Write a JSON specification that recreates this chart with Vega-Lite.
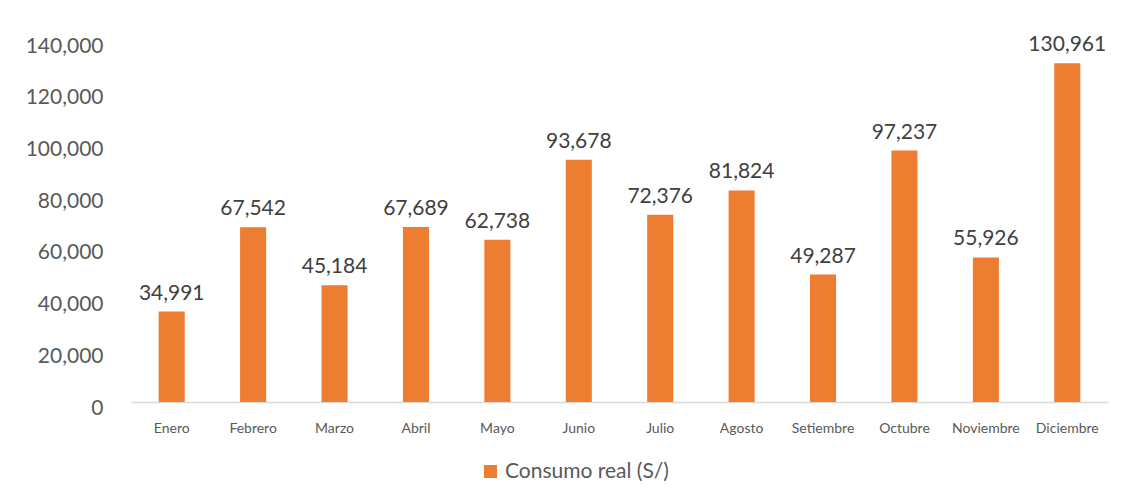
{
  "$schema": "https://vega.github.io/schema/vega-lite/v6.json",
  "autosize": "none",
  "width": 977,
  "height": 362,
  "padding": {"left": 131, "top": 40, "right": 16, "bottom": 102},
  "background": "white",
  "config": {"view": {"stroke": null}, "font": "Lato"},
  "data": {
    "values": [
      {"mes": "Enero", "valor": 34991, "serie": "Consumo real (S/)"},
      {"mes": "Febrero", "valor": 67542, "serie": "Consumo real (S/)"},
      {"mes": "Marzo", "valor": 45184, "serie": "Consumo real (S/)"},
      {"mes": "Abril", "valor": 67689, "serie": "Consumo real (S/)"},
      {"mes": "Mayo", "valor": 62738, "serie": "Consumo real (S/)"},
      {"mes": "Junio", "valor": 93678, "serie": "Consumo real (S/)"},
      {"mes": "Julio", "valor": 72376, "serie": "Consumo real (S/)"},
      {"mes": "Agosto", "valor": 81824, "serie": "Consumo real (S/)"},
      {"mes": "Setiembre", "valor": 49287, "serie": "Consumo real (S/)"},
      {"mes": "Octubre", "valor": 97237, "serie": "Consumo real (S/)"},
      {"mes": "Noviembre", "valor": 55926, "serie": "Consumo real (S/)"},
      {"mes": "Diciembre", "valor": 130961, "serie": "Consumo real (S/)"}
    ]
  },
  "encoding": {
    "x": {
      "field": "mes", "type": "nominal", "sort": null,
      "scale": {"paddingInner": 0.68, "paddingOuter": 0.34},
      "axis": {"title": null, "labelAngle": 0, "ticks": false, "domainColor": "#d9d9d9", "domainWidth": 1.5,
               "labelFont": "Lato", "labelFontSize": 14, "labelColor": "#595959", "labelPadding": 19}
    },
    "y": {
      "field": "valor", "type": "quantitative",
      "scale": {"domain": [0, 140000]},
      "axis": {"title": null, "values": [0, 20000, 40000, 60000, 80000, 100000, 120000, 140000], "format": ",d",
               "grid": false, "domain": false, "ticks": false, "labelFont": "Lato", "labelFontSize": 21,
               "labelColor": "#595959", "labelPadding": 28, "labelOffset": 6}
    }
  },
  "layer": [
    {
      "mark": {"type": "bar", "color": "#ED7D31"},
      "encoding": {
        "color": {"field": "serie", "type": "nominal", "scale": {"range": ["#ED7D31"]},
          "legend": {"title": null, "orient": "none", "legendX": 349, "legendY": 421, "symbolType": "square",
                     "symbolSize": 169, "symbolStrokeWidth": 0, "labelFont": "Lato", "labelFontSize": 21,
                     "labelColor": "#595959", "labelLimit": 400}}
      }
    },
    {
      "mark": {"type": "text", "baseline": "bottom", "dy": -8, "font": "Lato", "fontSize": 21, "color": "#404040"},
      "encoding": {"text": {"field": "valor", "type": "quantitative", "format": ",d"}}
    }
  ]
}
